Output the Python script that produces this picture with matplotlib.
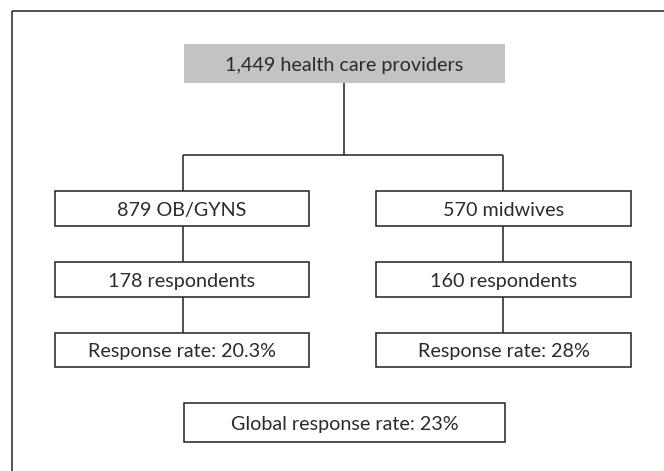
import matplotlib
matplotlib.use("Agg")
import matplotlib.pyplot as plt
from matplotlib.patches import Rectangle

plt.rcParams['font.family'] = ['Lato', 'DejaVu Sans']

top_label = "1,449 health care providers"
left_labels = ["879 OB/GYNS", "178 respondents", "Response rate: 20.3%"]
right_labels = ["570 midwives", "160 respondents", "Response rate: 28%"]
global_label = "Global response rate: 23%"

W, H = 664, 471
fig = plt.figure(figsize=(W / 100, H / 100), dpi=100)
ax = fig.add_axes([0, 0, 1, 1])
ax.set_xlim(0, W)
ax.set_ylim(H, 0)
ax.axis('off')

EC = '#231f20'
TC = '#2b2b2b'
LW = 1.1
FS = 14.2

def box(x0, x1, y0, y1, text, fill='white', edge=EC):
    ax.add_patch(Rectangle((x0, y0), x1 - x0, y1 - y0, facecolor=fill,
                           edgecolor=edge, lw=LW if edge != 'none' else 0))
    ax.text((x0 + x1) / 2, (y0 + y1) / 2 + 7.2, text, ha='center', va='baseline',
            fontsize=FS, color=TC)

def line(xs, ys):
    ax.plot(xs, ys, color=EC, lw=LW, solid_capstyle='butt')

# frame (top and left only)
line([11.5, W], [10.7, 10.7])
line([11.5, 11.5], [10.7, H])

# top box
box(184, 505, 44, 83, top_label, fill='#c2c3c5', edge='none')
line([344, 344], [83, 155])
line([183, 503], [155, 155])

rows = [(191, 226), (262, 297), (333, 367)]
cols = [(55, 309, 183, left_labels), (376, 631, 503, right_labels)]
for x0, x1, cx, labels in cols:
    line([cx, cx], [155, rows[0][0]])
    for i, (y0, y1) in enumerate(rows):
        if i > 0:
            line([cx, cx], [rows[i - 1][1], y0])
        box(x0, x1, y0, y1, labels[i])

box(184, 505, 403, 442, global_label)

fig.savefig('out.png', dpi=100)
